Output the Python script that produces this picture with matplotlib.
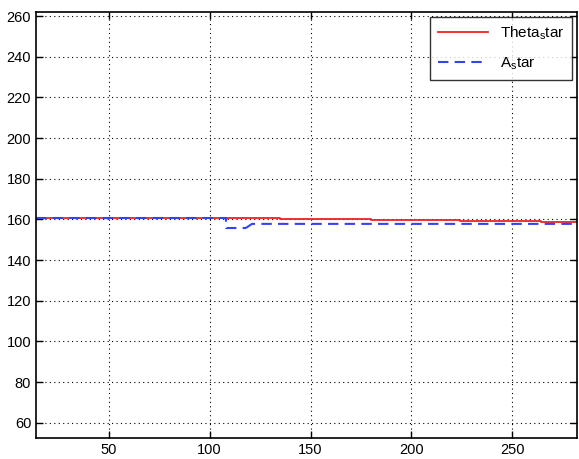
import matplotlib
matplotlib.use("Agg")
import matplotlib.pyplot as plt

# Data (step signals)
theta_x = [14, 135, 180, 224, 264, 282]
theta_y = [160.6, 160.3, 159.6, 159.1, 158.6, 158.6]
a_x = [14, 108, 118, 121, 282]
a_y = [160.6, 155.8, 155.8, 157.8, 157.8]

xticks = [50, 100, 150, 200, 250]
yticks = [60, 80, 100, 120, 140, 160, 180, 200, 220, 240, 260]

plt.rcParams['font.family'] = ['Liberation Sans', 'DejaVu Sans']

fig = plt.figure(figsize=(5.79, 4.59), dpi=100)
ax = fig.add_axes([36/579, 21/459, 541/579, 426/459])

ax.plot(theta_x, theta_y, color='#ee2222', lw=1.3,
        drawstyle='steps-post', label='Theta$_\\mathregular{s}$tar')
ax.plot(a_x[:3], a_y[:3], color='#3344ee', lw=1.5, ls=(0, (5, 3)),
        drawstyle='steps-post', label='A$_\\mathregular{s}$tar')
ax.plot(a_x[2:], a_y[2:], color='#3344ee', lw=1.5, ls=(0, (5, 3)))

ax.set_xlim(14, 282)
ax.set_ylim(52.5, 262)
ax.set_xticks(xticks)
ax.set_yticks(yticks)
ax.grid(True, color='black', ls=(0, (1, 3)), lw=0.8)
ax.tick_params(direction='in', length=5, width=1, labelsize=10.5, top=True, right=True)
for s in ax.spines.values():
    s.set_linewidth(1.2)

leg = ax.legend(loc='upper right', fontsize=11, frameon=True, fancybox=False,
                edgecolor='black', handlelength=3.3, borderpad=0.5, labelspacing=0.9,
                borderaxespad=0.3, bbox_to_anchor=(1.0, 1.0))
leg.get_frame().set_linewidth(1.0)

fig.savefig('out.png', dpi=100)
